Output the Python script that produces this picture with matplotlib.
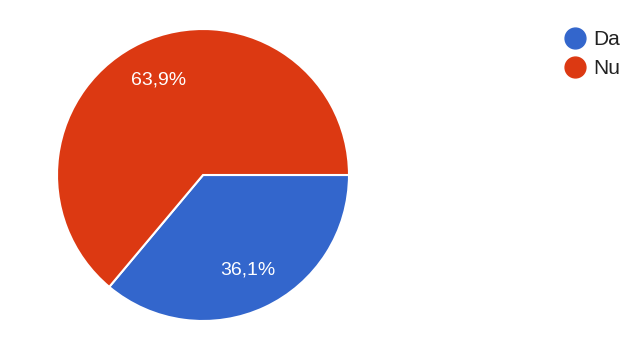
import matplotlib
matplotlib.use("Agg")
import matplotlib.pyplot as plt
from matplotlib.lines import Line2D
import numpy as np

plt.rcParams['font.family'] = ['Liberation Sans', 'DejaVu Sans']

labels = ["Da", "Nu"]
values = [36.1, 63.9]
colors = ["#3366CC", "#DC3912"]
pct_labels = ["36,1%", "63,9%"]

W, H = 642, 339
fig = plt.figure(figsize=(W / 100, H / 100), dpi=100)
cx, cy, r = 203, 175, 146
ax = fig.add_axes([(cx - r) / W, (H - cy - r) / H, 2 * r / W, 2 * r / H])
wedges, _ = ax.pie(values, colors=colors, startangle=0, counterclock=False,
                   radius=1, wedgeprops=dict(edgecolor="white", linewidth=1.5))
cum = 0
for v, lab in zip(values, pct_labels):
    mid = -(cum + v / 2) / 100 * 2 * np.pi
    cum += v
    ax.text(0.72 * np.cos(mid), 0.72 * np.sin(mid), lab, color="white",
            fontsize=14, ha="center", va="center")
ax.set_xlim(-1, 1)
ax.set_ylim(-1, 1)
ax.set_aspect("equal")
ax.axis("off")

handles = [Line2D([], [], marker="o", linestyle="", markersize=15,
                  markerfacecolor=c, markeredgecolor=c) for c in colors]
leg = fig.legend(handles, labels, loc="upper left", bbox_to_anchor=(565 / W, 1 - 30 / H),
                 frameon=False, fontsize=15, handlelength=1.0, handletextpad=0.35,
                 labelspacing=0.5, borderpad=0, borderaxespad=0)
for t in leg.get_texts():
    t.set_color("#222222")

fig.savefig("out.png", dpi=100)
